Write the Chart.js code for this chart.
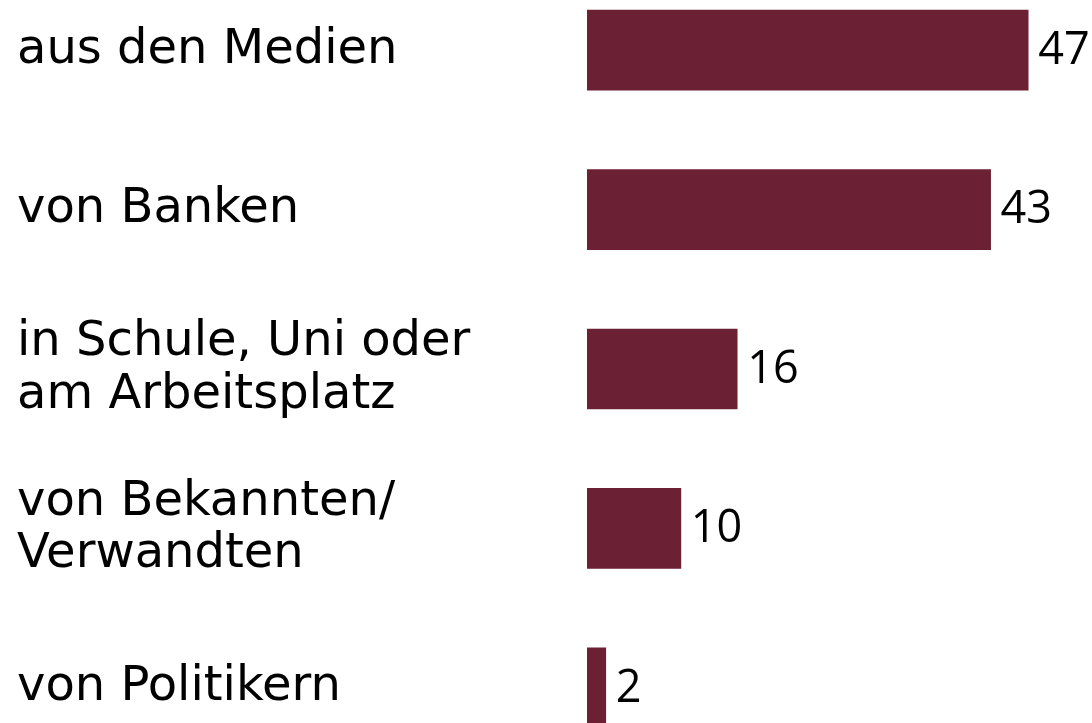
<!DOCTYPE html>
<html lang="de">
<head>
<meta charset="utf-8">
<title>Informationsquellen</title>
<script src="https://cdn.jsdelivr.net/npm/chart.js@4.4.1/dist/chart.umd.min.js"></script>
<style>
    html, body {
        margin: 0;
        padding: 0;
        background: #ffffff;
        overflow: hidden;
    }
    /* the last bar runs past the bottom edge, so the canvas is taller than the page */
    #wrap {
        position: absolute;
        left: 0;
        top: -56px;
        width: 1092px;
        height: 850px;
    }
</style>
</head>
<body>
<div id="wrap"><canvas id="sourcesChart"></canvas></div>
<script>
const categories = [
    'aus den Medien',
    'von Banken',
    ['in Schule, Uni oder', 'am Arbeitsplatz'],
    ['von Bekannten/', 'Verwandten'],
    'von Politikern'
];
const values = [47, 43, 16, 10, 2];
const xMax = 53.8;

const barColor = '#6b2133';

// writes the number right next to the end of each bar
const valueLabels = {
    id: 'valueLabels',
    afterDatasetsDraw(chart) {
        const ctx = chart.ctx;
        const meta = chart.getDatasetMeta(0);
        ctx.save();
        ctx.font = '45px "Open Sans"';
        ctx.fillStyle = '#000000';
        ctx.textAlign = 'left';
        ctx.textBaseline = 'middle';
        meta.data.forEach((bar, i) => {
            ctx.fillText(String(values[i]), bar.x + 10, bar.y + 1);
        });
        ctx.restore();
    }
};

const ctx = document.getElementById('sourcesChart').getContext('2d');
const sourcesChart = new Chart(ctx, {
    type: 'bar',
    data: {
        labels: categories,
        datasets: [{
            data: values,
            backgroundColor: barColor,
            borderWidth: 0,
            barThickness: 80
        }]
    },
    options: {
        indexAxis: 'y',
        responsive: true,
        maintainAspectRatio: false,
        animation: false,
        layout: {
            padding: {left: 17, right: 0, top: 0, bottom: 0}
        },
        plugins: {
            legend: {display: false},
            tooltip: {enabled: false}
        },
        scales: {
            x: {
                display: false,
                min: 0,
                max: xMax
            },
            y: {
                grid: {display: false},
                border: {display: false},
                ticks: {
                    crossAlign: 'far',
                    padding: 0,
                    autoSkip: false,
                    color: '#000000',
                    font: {family: '"DejaVu Sans"', size: 48, lineHeight: 1.1}
                },
                afterFit(scale) {
                    scale.width = 570;
                }
            }
        }
    },
    plugins: [valueLabels]
});
</script>
</body>
</html>
